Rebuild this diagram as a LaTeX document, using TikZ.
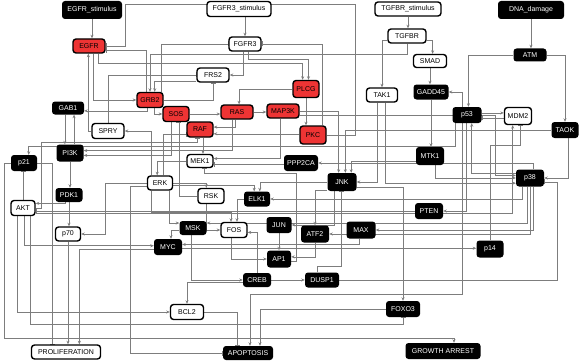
\documentclass[tikz,border=0pt]{standalone}
\usepackage{fontspec}
\setmainfont{Liberation Sans}
\usetikzlibrary{arrows.meta,backgrounds}
\definecolor{nodered}{RGB}{238,52,52}
\definecolor{edgegray}{RGB}{125,125,125}
\tikzset{
  gene/.style={rounded corners=3pt,minimum width=26pt,minimum height=15pt,inner sep=1pt,font=\fontsize{7}{8}\selectfont},
  blacknode/.style={gene,fill=black,text=white},
  whitenode/.style={gene,fill=white,draw=black,line width=1.4pt},
  rednode/.style={gene,fill=nodered,draw=black,line width=1.4pt},
  sz/.style 2 args={minimum width=#1pt,minimum height=#2pt},
  act/.style={draw=edgegray,line width=0.6pt,-{Stealth[length=3.5pt,width=3pt]}},
  inh/.style={draw=edgegray,line width=0.6pt,-{Bar[width=5pt]}}
}
\begin{document}
\begin{tikzpicture}[x=1pt,y=-1pt]
  \useasboundingbox (0,0) rectangle (581,361);
  \node[blacknode,sz={60}{18}] (egfrs) at (92,10) {EGFR\_stimulus};
  \node[whitenode,sz={64}{15}] (fgfrs) at (239,9) {FGFR3\_stimulus};
  \node[whitenode,sz={66}{14}] (tgfbrs) at (408,9) {TGFBR\_stimulus};
  \node[blacknode,sz={66}{18}] (dna) at (531,10) {DNA\_damage};
  \node[rednode,sz={32}{14}] (egfr) at (89,46) {EGFR};
  \node[whitenode,sz={32}{14}] (fgfr3) at (245,44) {FGFR3};
  \node[whitenode,sz={38}{14}] (tgfbr) at (407,36) {TGFBR};
  \node[blacknode,sz={33}{13}] (atm) at (530,55) {ATM};
  \node[whitenode,sz={32}{14}] (frs2) at (213,75) {FRS2};
  \node[whitenode,sz={33}{13}] (smad) at (430,61) {SMAD};
  \node[blacknode,sz={35}{15}] (gadd45) at (431,92) {GADD45};
  \node[whitenode,sz={31}{14}] (tak1) at (382,95) {TAK1};
  \node[rednode,sz={26}{17}] (plcg) at (306,89) {PLCG};
  \node[rednode] (grb2) at (150,100) {GRB2};
  \node[blacknode,sz={32}{13}] (gab1) at (68,108) {GAB1};
  \node[rednode] (sos) at (176,114) {SOS};
  \node[rednode,sz={32}{14}] (ras) at (237,112) {RAS};
  \node[rednode,sz={32}{14}] (map3k) at (283,111) {MAP3K};
  \node[blacknode,sz={29}{16}] (p53) at (467,115) {p53};
  \node[whitenode,sz={27}{17}] (mdm2) at (518,116) {MDM2};
  \node[rednode] (raf) at (200,129.5) {RAF};
  \node[whitenode,sz={32}{15}] (spry) at (108,131) {SPRY};
  \node[rednode,sz={26}{18}] (pkc) at (313,135) {PKC};
  \node[blacknode,sz={27}{16}] (taok) at (565,130) {TAOK};
  \node[blacknode,sz={27}{17}] (pi3k) at (70,153) {PI3K};
  \node[blacknode,sz={26}{16}] (p21) at (24,163) {p21};
  \node[whitenode,sz={26}{13}] (mek1) at (200,161) {MEK1};
  \node[blacknode,sz={34}{16}] (ppp2ca) at (301,163) {PPP2CA};
  \node[blacknode,sz={28}{18}] (mtk1) at (430,156) {MTK1};
  \node[whitenode,sz={25}{14}] (erk) at (160,183) {ERK};
  \node[blacknode,sz={29}{18}] (jnk) at (342,182) {JNK};
  \node[blacknode,sz={28}{17}] (p38) at (530,178) {p38};
  \node[blacknode,sz={27}{14}] (pdk1) at (69,195) {PDK1};
  \node[whitenode] (rsk) at (211,196) {RSK};
  \node[blacknode] (elk1) at (257,199) {ELK1};
  \node[whitenode,sz={24}{15}] (akt) at (23,208) {AKT};
  \node[blacknode,sz={28}{16}] (pten) at (429,211) {PTEN};
  \node[blacknode,sz={27}{14}] (msk) at (193,228) {MSK};
  \node[whitenode] (fos) at (234,230) {FOS};
  \node[blacknode,sz={25}{16}] (jun) at (279,225) {JUN};
  \node[blacknode,sz={28}{17}] (atf2) at (315,234) {ATF2};
  \node[blacknode,sz={29}{17}] (max) at (361,230) {MAX};
  \node[whitenode,sz={25}{14}] (p70) at (68,234) {p70};
  \node[blacknode,sz={28}{16}] (myc) at (168,247) {MYC};
  \node[blacknode,sz={27}{17}] (p14) at (490,249) {p14};
  \node[blacknode,sz={24}{17}] (ap1) at (279,259) {AP1};
  \node[blacknode,sz={28}{14}] (creb) at (257,280) {CREB};
  \node[blacknode,sz={34}{15}] (dusp1) at (322,280) {DUSP1};
  \node[blacknode,sz={34}{16}] (foxo3) at (403,309) {FOXO3};
  \node[whitenode,sz={33}{15}] (bcl2) at (187,312) {BCL2};
  \node[whitenode,sz={69}{14}] (prolif) at (66,352) {PROLIFERATION};
  \node[blacknode,sz={50}{14}] (apop) at (248,353) {APOPTOSIS};
  \node[blacknode,sz={75}{16}] (garrest) at (443,351) {GROWTH ARREST};
  \begin{scope}[on background layer]
  \draw[act] (egfrs.south) -- (egfrs.south |- egfr.north);
  \draw[act] (fgfr3.north |- fgfrs.south) -- (fgfr3.north);
  \draw[act] (tgfbrs.south) -- (tgfbrs.south |- tgfbr.north);
  \draw[act] (dna.south) -- (dna.south |- atm.north);
  \draw[act] (spry.west) -| (egfr.-95);
  \draw[inh] (pkc.east) -- ++(29,0) |- ([xshift=20pt,yshift=42pt]egfr.east) |- (egfr.east);
  \draw[inh] (grb2.115) |- (egfr.-15);
  \draw[inh] (grb2.35) |- (fgfr3.west);
  \draw[inh] (pkc.45) |- (fgfr3.east);
  \draw[act] (fgfr3.-100) |- (frs2.east);
  \draw[inh] (spry.north) |- (frs2.west);
  \draw[inh] (grb2.east) -| (frs2.south);
  \draw[act] (egfr.-60) |- (grb2.west);
  \draw[act] (frs2.200) -| (grb2.60);
  \draw[act] (tgfbr.south) -- ++(0,11) -| (grb2.north);
  \draw[act] (grb2.-110) |- (gab1.-10);
  \draw[act] (pi3k.65) -- (pi3k.65 |- gab1.south);
  \draw[act] (gab1.-115) -- (gab1.-115 |- pi3k.north);
  \draw[act] (tgfbr.-12) -| (smad.70);
  \draw[act] (tgfbr.192) -| (tak1.north);
  \draw[act] (smad.south) -- (smad.south |- gadd45.north);
  \draw[act] (p53.120) |- (gadd45.east);
  \draw[act] (egfr.-40) -- ++(0,10) -| (plcg.110);
  \draw[act] (fgfr3.-70) -- ++(0,8) -| (plcg.75);
  \draw[act] (plcg.south) -- (plcg.south |- pkc.north);
  \draw[act] (plcg.west) -| (ras.75);
  \draw[act] (sos.east) -- (sos.east -| ras.west);
  \draw[act] (grb2.-60) |- (sos.west);
  \draw[inh] (rsk.west) -| (sos.-70);
  \draw[act] (ras.east) -- (ras.east -| map3k.west);
  \draw[act] (ras.-100) |- (raf.10);
  \draw[act] (pkc.175) -- (pkc.175 -| raf.east);
  \draw[inh] (erk.70) |- (raf.200);
  \draw[inh] (akt.east) -- ++(6,0) |- ([xshift=-3pt,yshift=-5pt]raf.south) -- ([xshift=-3pt]raf.south);
  \draw[act] (raf.-70) -- (raf.-70 |- mek1.north);
  \draw[act] (map3k.-110) |- (mek1.10);
  \draw[inh] (ppp2ca.185) -- (ppp2ca.185 -| mek1.east);
  \draw[inh] (ap1.-10) -- ++(5,0) |- ([xshift=4pt,yshift=-5pt]mek1.south) -- ([xshift=4pt]mek1.south);
  \draw[act] (mek1.west) -| (erk.110);
  \draw[act] (erk.140) |- (spry.east);
  \draw[act] (erk.east) -| (rsk.120);
  \draw[act] (erk.-40) |- (msk.160);
  \draw[act] (erk.-10) -| (elk1.110);
  \draw[act] (erk.-140) -- ++(0,22) -| (fos.110);
  \draw[act] (erk.west) -| ([xshift=24pt]p70.east) -- (p70.east);
  \draw[inh] (erk.195) -| ([xshift=-93pt]apop.west) -- (apop.west);
  \draw[act] (ras.-120) |- (pi3k.10);
  \draw[act] (sos.-120) |- (pi3k.-10);
  \draw[act] (pi3k.south) -- (pi3k.south |- pdk1.north);
  \draw[act] (pdk1.-120) |- (akt.20);
  \draw[inh] (pten.west) -- (pten.west -| akt.east);
  \draw[act] (pdk1.south) -- (pdk1.south |- p70.north);
  \draw[inh] (akt.north) -- (akt.north |- p21.south);
  \draw[act] (p53.-145) -- ++(0,23) -| (p21.60);
  \draw[act] (akt.-22) -| (mdm2.-120);
  \draw[act] (akt.-125) |- (bcl2.west);
  \draw[inh] (akt.-50) |- ([yshift=-7pt]foxo3.south) -- (foxo3.south);
  \draw[act] (akt.-80) |- (myc.175);
  \draw[act] (myc.190) -| (prolif.30);
  \draw[act] (p70.south) -- (p70.south |- prolif.north);
  \draw[inh] (p21.east) -| (prolif.150);
  \draw[act] (p21.west) -- ++(-7,0) |- ([xshift=11pt,yshift=5pt]garrest.north) -- ([xshift=11pt]garrest.north);
  \draw[act] (p53.8) -- (p53.8 -| mdm2.west);
  \draw[inh] (mdm2.188) -- (mdm2.188 -| p53.east);
  \draw[inh] (p14.north) -- ++(0,-95) -| (mdm2.-75);
  \draw[act] (atm.west) -| (p53.80);
  \draw[act] (p38.160) -| (p53.-60);
  \draw[act] (p53.-95) |- (pten.east);
  \draw[act] (p53.-120) |- ([xshift=2pt,yshift=52pt]apop.north) -- ([xshift=2pt]apop.north);
  \draw[act] (atm.east) -| (taok.north);
  \draw[act] (gadd45.south) -- (gadd45.south |- mtk1.north);
  \draw[act] (map3k.east) -| (jnk.110);
  \draw[act] (tak1.-120) |- (jnk.east);
  \draw[act] (mtk1.200) -| (jnk.45);
  \draw[act] (taok.west) -| (jnk.70);
  \draw[inh] (dusp1.120) -- ++(0,-6) -| (jnk.-95);
  \draw[act] (map3k.-15) -| ([xshift=-21pt]p38.170) -- (p38.170);
  \draw[act] (tak1.-70) |- (p38.200);
  \draw[act] (mtk1.-60) |- (p38.west);
  \draw[act] (taok.-70) |- (p38.east);
  \draw[inh] (dusp1.east) -| ([xshift=13pt]p38.-15) -- (p38.-15);
  \draw[act] (p38.70) |- (ppp2ca.east);
  \draw[act] (p38.-110) |- (msk.20);
  \draw[act] (p38.-130) |- (elk1.east);
  \draw[act] (p38.-90) |- (atf2.east);
  \draw[act] (p38.-70) |- (max.east);
  \draw[act] (jnk.west) -| (elk1.70);
  \draw[act] (jnk.-130) |- (jun.east);
  \draw[act] (jnk.-150) -| (atf2.north);
  \draw[act] (jnk.-20) -| (foxo3.north);
  \draw[act] (rsk.-120) |- (fos.west);
  \draw[act] (elk1.west) -| (fos.70);
  \draw[act] (creb.north) |- (fos.-10);
  \draw[act] (msk.-100) |- (creb.west);
  \draw[act] (msk.190) -| (myc.70);
  \draw[act] (max.-100) |- (myc.10);
  \draw[act] (myc.-5) -- (myc.-5 -| p14.west);
  \draw[act] (fos.-110) |- (ap1.west);
  \draw[act] (jun.south) -- (jun.south |- ap1.north);
  \draw[act] (atf2.south) |- (ap1.10);
  \draw[act] (creb.east) -- (creb.east -| dusp1.west);
  \draw[act] (creb.190) -| (bcl2.north);
  \draw[inh] (bcl2.east) -| ([xshift=-11pt]apop.north);
  \draw[act] (foxo3.west) -| ([xshift=12pt]apop.north);
  \end{scope}
\end{tikzpicture}
\end{document}
